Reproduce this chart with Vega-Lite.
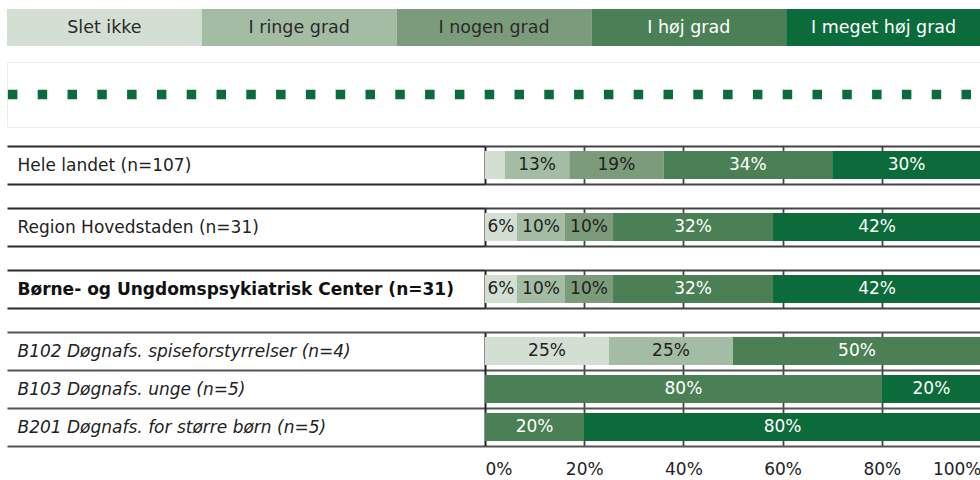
{
  "$schema": "https://vega.github.io/schema/vega-lite/v6.json",
  "padding": {"left": 6, "top": 9, "right": 0, "bottom": 0},
  "config": {
    "font": "DejaVu Sans",
    "view": {"stroke": null},
    "concat": {"spacing": 0}
  },
  "datasets": {
    "categories": [
      {"cat": "Slet ikke", "ord": 1},
      {"cat": "I ringe grad", "ord": 2},
      {"cat": "I nogen grad", "ord": 3},
      {"cat": "I høj grad", "ord": 4},
      {"cat": "I meget høj grad", "ord": 5}
    ],
    "reference": [{"series": "Reference"}],
    "rows": [
      {"group": 1, "label": "Hele landet (n=107)", "cat": "Slet ikke", "ord": 1, "pct": 0.04},
      {"group": 1, "label": "Hele landet (n=107)", "cat": "I ringe grad", "ord": 2, "pct": 0.13},
      {"group": 1, "label": "Hele landet (n=107)", "cat": "I nogen grad", "ord": 3, "pct": 0.19},
      {"group": 1, "label": "Hele landet (n=107)", "cat": "I høj grad", "ord": 4, "pct": 0.34},
      {"group": 1, "label": "Hele landet (n=107)", "cat": "I meget høj grad", "ord": 5, "pct": 0.30},
      {"group": 2, "label": "Region Hovedstaden (n=31)", "cat": "Slet ikke", "ord": 1, "pct": 0.0645},
      {"group": 2, "label": "Region Hovedstaden (n=31)", "cat": "I ringe grad", "ord": 2, "pct": 0.0968},
      {"group": 2, "label": "Region Hovedstaden (n=31)", "cat": "I nogen grad", "ord": 3, "pct": 0.0968},
      {"group": 2, "label": "Region Hovedstaden (n=31)", "cat": "I høj grad", "ord": 4, "pct": 0.3226},
      {"group": 2, "label": "Region Hovedstaden (n=31)", "cat": "I meget høj grad", "ord": 5, "pct": 0.4194},
      {"group": 3, "label": "Børne- og Ungdomspsykiatrisk Center (n=31)", "cat": "Slet ikke", "ord": 1, "pct": 0.0645},
      {"group": 3, "label": "Børne- og Ungdomspsykiatrisk Center (n=31)", "cat": "I ringe grad", "ord": 2, "pct": 0.0968},
      {"group": 3, "label": "Børne- og Ungdomspsykiatrisk Center (n=31)", "cat": "I nogen grad", "ord": 3, "pct": 0.0968},
      {"group": 3, "label": "Børne- og Ungdomspsykiatrisk Center (n=31)", "cat": "I høj grad", "ord": 4, "pct": 0.3226},
      {"group": 3, "label": "Børne- og Ungdomspsykiatrisk Center (n=31)", "cat": "I meget høj grad", "ord": 5, "pct": 0.4194},
      {"group": 4, "label": "B102 Døgnafs. spiseforstyrrelser (n=4)", "cat": "Slet ikke", "ord": 1, "pct": 0.25},
      {"group": 4, "label": "B102 Døgnafs. spiseforstyrrelser (n=4)", "cat": "I ringe grad", "ord": 2, "pct": 0.25},
      {"group": 4, "label": "B102 Døgnafs. spiseforstyrrelser (n=4)", "cat": "I nogen grad", "ord": 3, "pct": 0},
      {"group": 4, "label": "B102 Døgnafs. spiseforstyrrelser (n=4)", "cat": "I høj grad", "ord": 4, "pct": 0.5},
      {"group": 4, "label": "B102 Døgnafs. spiseforstyrrelser (n=4)", "cat": "I meget høj grad", "ord": 5, "pct": 0},
      {"group": 4, "label": "B103 Døgnafs. unge (n=5)", "cat": "Slet ikke", "ord": 1, "pct": 0},
      {"group": 4, "label": "B103 Døgnafs. unge (n=5)", "cat": "I ringe grad", "ord": 2, "pct": 0},
      {"group": 4, "label": "B103 Døgnafs. unge (n=5)", "cat": "I nogen grad", "ord": 3, "pct": 0},
      {"group": 4, "label": "B103 Døgnafs. unge (n=5)", "cat": "I høj grad", "ord": 4, "pct": 0.8},
      {"group": 4, "label": "B103 Døgnafs. unge (n=5)", "cat": "I meget høj grad", "ord": 5, "pct": 0.2},
      {"group": 4, "label": "B201 Døgnafs. for større børn (n=5)", "cat": "Slet ikke", "ord": 1, "pct": 0},
      {"group": 4, "label": "B201 Døgnafs. for større børn (n=5)", "cat": "I ringe grad", "ord": 2, "pct": 0},
      {"group": 4, "label": "B201 Døgnafs. for større børn (n=5)", "cat": "I nogen grad", "ord": 3, "pct": 0},
      {"group": 4, "label": "B201 Døgnafs. for større børn (n=5)", "cat": "I høj grad", "ord": 4, "pct": 0.2},
      {"group": 4, "label": "B201 Døgnafs. for større børn (n=5)", "cat": "I meget høj grad", "ord": 5, "pct": 0.8}
    ]
  },
  "spacing": 15,
  "vconcat": [
    {
      "data": {"name": "categories"},
      "width": 974,
      "height": 37,
      "encoding": {
        "x": {"field": "cat", "type": "nominal", "sort": null, "axis": null, "scale": {"paddingInner": 0, "paddingOuter": 0}}
      },
      "layer": [
        {
          "mark": {"type": "rect"},
          "encoding": {
            "color": {"field": "cat", "type": "nominal", "legend": null,
              "scale": {"domain": ["Slet ikke", "I ringe grad", "I nogen grad", "I høj grad", "I meget høj grad"], "range": ["#d3dfd3", "#a3bca3", "#7b9b7b", "#4b7f55", "#0b6b3a"]}}
          }
        },
        {
          "mark": {"type": "text", "fontSize": 17.5},
          "encoding": {
            "text": {"field": "cat"},
            "color": {"condition": {"test": "datum.ord >= 4", "value": "#ffffff"}, "value": "#2a2a2a"}
          }
        }
      ]
    },
    {
      "spacing": 9,
      "vconcat": [
        {
          "data": {"name": "reference"},
          "width": 974,
          "height": 65,
          "view": {"stroke": "#ececec"},
          "mark": {"type": "rule", "color": "#0b6b3a", "strokeWidth": 9.5, "strokeDash": [9.5, 20.3], "strokeDashOffset": 19.8, "strokeCap": "butt", "clip": true},
          "encoding": {"y": {"field": "series", "type": "nominal", "axis": null}}
        },
        {
          "spacing": 15,
          "vconcat": [
            {
              "spacing": 0,
              "bounds": "flush",
              "hconcat": [
                {
                  "width": 478, "height": 38,
                  "data": {"name": "rows"},
                  "transform": [{"filter": "datum.group == 1"}],
                  "mark": {"type": "bar", "opacity": 0},
                  "encoding": {
                    "y": {"field": "label", "type": "nominal", "sort": null, "title": null,
                      "scale": {"paddingInner": 0, "paddingOuter": 0},
                      "axis": {"orient": "left", "domain": false, "ticks": false, "tickSize": 0, "labelAlign": "left", "labelPadding": -10, "labelFontSize": 17, "labelColor": "#222222", "labelLimit": 470, "grid": true, "tickBand": "extent", "gridColor": "#2a2a2a", "gridWidth": 1.8, "gridOpacity": 1, "zindex": 1}}
                  }
                },
                {
                  "width": 496, "height": 38,
                  "data": {"name": "rows"},
                  "transform": [{"filter": "datum.group == 1"}],
                  "encoding": {
                    "y": {"field": "label", "type": "nominal", "sort": null, "title": null,
                      "scale": {"paddingInner": 0, "paddingOuter": 0},
                      "axis": {"labels": false, "ticks": false, "domain": true, "domainColor": "#222222", "domainWidth": 2, "grid": true, "tickBand": "extent", "gridColor": "#444444", "gridWidth": 1.8, "gridOpacity": 1}},
                    "order": {"field": "ord", "type": "quantitative"}
                  },
                  "layer": [
                    {
                      "mark": {"type": "bar", "height": {"band": 0.74}},
                      "encoding": {
                        "x": {"field": "pct", "type": "quantitative", "stack": "zero", "scale": {"domain": [0, 1], "nice": false},
                          "axis": {"title": null, "labels": false, "ticks": false, "domain": false, "grid": true, "values": [0.2, 0.4, 0.6, 0.8], "gridColor": "#444444", "gridWidth": 1.8, "gridOpacity": 1}},
                        "color": {"field": "cat", "type": "nominal", "legend": null,
                          "scale": {"domain": ["Slet ikke", "I ringe grad", "I nogen grad", "I høj grad", "I meget høj grad"], "range": ["#d3dfd3", "#a3bca3", "#7b9b7b", "#4b7f55", "#0b6b3a"]}}
                      }
                    },
                    {
                      "mark": {"type": "text", "fontSize": 17},
                      "encoding": {
                        "x": {"field": "pct", "type": "quantitative", "stack": "zero", "bandPosition": 0.5,
                          "axis": {"title": null, "labels": false, "ticks": false, "domain": false, "grid": true, "values": [0.2, 0.4, 0.6, 0.8], "gridColor": "#444444", "gridWidth": 1.8, "gridOpacity": 1}},
                        "text": {"field": "pct", "type": "quantitative", "format": ".0%"},
                        "opacity": {"condition": {"test": "datum.pct < 0.05", "value": 0}, "value": 1},
                        "color": {"condition": {"test": "datum.ord >= 4", "value": "#ffffff"}, "value": "#222222"}
                      }
                    }
                  ]
                }
              ]
            },
            {
              "spacing": 0,
              "bounds": "flush",
              "hconcat": [
                {
                  "width": 478, "height": 38,
                  "data": {"name": "rows"},
                  "transform": [{"filter": "datum.group == 2"}],
                  "mark": {"type": "bar", "opacity": 0},
                  "encoding": {
                    "y": {"field": "label", "type": "nominal", "sort": null, "title": null,
                      "scale": {"paddingInner": 0, "paddingOuter": 0},
                      "axis": {"orient": "left", "domain": false, "ticks": false, "tickSize": 0, "labelAlign": "left", "labelPadding": -10, "labelFontSize": 17, "labelColor": "#222222", "labelLimit": 470, "grid": true, "tickBand": "extent", "gridColor": "#2a2a2a", "gridWidth": 1.8, "gridOpacity": 1, "zindex": 1}}
                  }
                },
                {
                  "width": 496, "height": 38,
                  "data": {"name": "rows"},
                  "transform": [{"filter": "datum.group == 2"}],
                  "encoding": {
                    "y": {"field": "label", "type": "nominal", "sort": null, "title": null,
                      "scale": {"paddingInner": 0, "paddingOuter": 0},
                      "axis": {"labels": false, "ticks": false, "domain": true, "domainColor": "#222222", "domainWidth": 2, "grid": true, "tickBand": "extent", "gridColor": "#444444", "gridWidth": 1.8, "gridOpacity": 1}},
                    "order": {"field": "ord", "type": "quantitative"}
                  },
                  "layer": [
                    {
                      "mark": {"type": "bar", "height": {"band": 0.74}},
                      "encoding": {
                        "x": {"field": "pct", "type": "quantitative", "stack": "zero", "scale": {"domain": [0, 1], "nice": false},
                          "axis": {"title": null, "labels": false, "ticks": false, "domain": false, "grid": true, "values": [0.2, 0.4, 0.6, 0.8], "gridColor": "#444444", "gridWidth": 1.8, "gridOpacity": 1}},
                        "color": {"field": "cat", "type": "nominal", "legend": null,
                          "scale": {"domain": ["Slet ikke", "I ringe grad", "I nogen grad", "I høj grad", "I meget høj grad"], "range": ["#d3dfd3", "#a3bca3", "#7b9b7b", "#4b7f55", "#0b6b3a"]}}
                      }
                    },
                    {
                      "mark": {"type": "text", "fontSize": 17},
                      "encoding": {
                        "x": {"field": "pct", "type": "quantitative", "stack": "zero", "bandPosition": 0.5,
                          "axis": {"title": null, "labels": false, "ticks": false, "domain": false, "grid": true, "values": [0.2, 0.4, 0.6, 0.8], "gridColor": "#444444", "gridWidth": 1.8, "gridOpacity": 1}},
                        "text": {"field": "pct", "type": "quantitative", "format": ".0%"},
                        "opacity": {"condition": {"test": "datum.pct < 0.05", "value": 0}, "value": 1},
                        "color": {"condition": {"test": "datum.ord >= 4", "value": "#ffffff"}, "value": "#222222"}
                      }
                    }
                  ]
                }
              ]
            },
            {
              "spacing": 0,
              "bounds": "flush",
              "hconcat": [
                {
                  "width": 478, "height": 38,
                  "data": {"name": "rows"},
                  "transform": [{"filter": "datum.group == 3"}],
                  "mark": {"type": "bar", "opacity": 0},
                  "encoding": {
                    "y": {"field": "label", "type": "nominal", "sort": null, "title": null,
                      "scale": {"paddingInner": 0, "paddingOuter": 0},
                      "axis": {"orient": "left", "domain": false, "ticks": false, "tickSize": 0, "labelAlign": "left", "labelPadding": -10, "labelFontSize": 17, "labelFontWeight": "bold", "labelColor": "#111111", "labelLimit": 470, "grid": true, "tickBand": "extent", "gridColor": "#2a2a2a", "gridWidth": 1.8, "gridOpacity": 1, "zindex": 1}}
                  }
                },
                {
                  "width": 496, "height": 38,
                  "data": {"name": "rows"},
                  "transform": [{"filter": "datum.group == 3"}],
                  "encoding": {
                    "y": {"field": "label", "type": "nominal", "sort": null, "title": null,
                      "scale": {"paddingInner": 0, "paddingOuter": 0},
                      "axis": {"labels": false, "ticks": false, "domain": true, "domainColor": "#222222", "domainWidth": 2, "grid": true, "tickBand": "extent", "gridColor": "#444444", "gridWidth": 1.8, "gridOpacity": 1}},
                    "order": {"field": "ord", "type": "quantitative"}
                  },
                  "layer": [
                    {
                      "mark": {"type": "bar", "height": {"band": 0.74}},
                      "encoding": {
                        "x": {"field": "pct", "type": "quantitative", "stack": "zero", "scale": {"domain": [0, 1], "nice": false},
                          "axis": {"title": null, "labels": false, "ticks": false, "domain": false, "grid": true, "values": [0.2, 0.4, 0.6, 0.8], "gridColor": "#444444", "gridWidth": 1.8, "gridOpacity": 1}},
                        "color": {"field": "cat", "type": "nominal", "legend": null,
                          "scale": {"domain": ["Slet ikke", "I ringe grad", "I nogen grad", "I høj grad", "I meget høj grad"], "range": ["#d3dfd3", "#a3bca3", "#7b9b7b", "#4b7f55", "#0b6b3a"]}}
                      }
                    },
                    {
                      "mark": {"type": "text", "fontSize": 17},
                      "encoding": {
                        "x": {"field": "pct", "type": "quantitative", "stack": "zero", "bandPosition": 0.5,
                          "axis": {"title": null, "labels": false, "ticks": false, "domain": false, "grid": true, "values": [0.2, 0.4, 0.6, 0.8], "gridColor": "#444444", "gridWidth": 1.8, "gridOpacity": 1}},
                        "text": {"field": "pct", "type": "quantitative", "format": ".0%"},
                        "opacity": {"condition": {"test": "datum.pct < 0.05", "value": 0}, "value": 1},
                        "color": {"condition": {"test": "datum.ord >= 4", "value": "#ffffff"}, "value": "#222222"}
                      }
                    }
                  ]
                }
              ]
            },
            {
              "spacing": 0,
              "bounds": "flush",
              "hconcat": [
                {
                  "width": 478, "height": 114,
                  "data": {"name": "rows"},
                  "transform": [{"filter": "datum.group == 4"}],
                  "mark": {"type": "bar", "opacity": 0},
                  "encoding": {
                    "y": {"field": "label", "type": "nominal", "sort": null, "title": null,
                      "scale": {"paddingInner": 0, "paddingOuter": 0},
                      "axis": {"orient": "left", "domain": false, "ticks": false, "tickSize": 0, "labelAlign": "left", "labelPadding": -10, "labelFontSize": 17, "labelFontStyle": "italic", "labelColor": "#222222", "labelLimit": 470, "grid": true, "tickBand": "extent", "gridColor": "#555555", "gridWidth": 1.8, "gridOpacity": 1, "zindex": 1}}
                  }
                },
                {
                  "width": 496, "height": 114,
                  "data": {"name": "rows"},
                  "transform": [{"filter": "datum.group == 4"}],
                  "encoding": {
                    "y": {"field": "label", "type": "nominal", "sort": null, "title": null,
                      "scale": {"paddingInner": 0, "paddingOuter": 0},
                      "axis": {"labels": false, "ticks": false, "domain": true, "domainColor": "#222222", "domainWidth": 2, "grid": true, "tickBand": "extent", "gridColor": "#555555", "gridWidth": 1.8, "gridOpacity": 1}},
                    "order": {"field": "ord", "type": "quantitative"}
                  },
                  "layer": [
                    {
                      "mark": {"type": "bar", "height": {"band": 0.74}},
                      "encoding": {
                        "x": {"field": "pct", "type": "quantitative", "stack": "zero", "scale": {"domain": [0, 1], "nice": false},
                          "axis": {"title": null, "format": ".0%", "labelFlush": true, "labelFontSize": 17, "labelColor": "#222222", "labelPadding": 15, "ticks": false, "domain": false, "grid": true, "values": [0, 0.2, 0.4, 0.6, 0.8, 1], "gridColor": "#444444", "gridWidth": 1.8,
                            "gridOpacity": {"condition": {"test": "datum.value > 0 && datum.value < 1", "value": 1}, "value": 0}}},
                        "color": {"field": "cat", "type": "nominal", "legend": null,
                          "scale": {"domain": ["Slet ikke", "I ringe grad", "I nogen grad", "I høj grad", "I meget høj grad"], "range": ["#d3dfd3", "#a3bca3", "#7b9b7b", "#4b7f55", "#0b6b3a"]}}
                      }
                    },
                    {
                      "mark": {"type": "text", "fontSize": 17},
                      "encoding": {
                        "x": {"field": "pct", "type": "quantitative", "stack": "zero", "bandPosition": 0.5,
                          "axis": {"title": null, "format": ".0%", "labelFlush": true, "labelFontSize": 17, "labelColor": "#222222", "labelPadding": 15, "ticks": false, "domain": false, "grid": true, "values": [0, 0.2, 0.4, 0.6, 0.8, 1], "gridColor": "#444444", "gridWidth": 1.8,
                            "gridOpacity": {"condition": {"test": "datum.value > 0 && datum.value < 1", "value": 1}, "value": 0}}},
                        "text": {"field": "pct", "type": "quantitative", "format": ".0%"},
                        "opacity": {"condition": {"test": "datum.pct < 0.05", "value": 0}, "value": 1},
                        "color": {"condition": {"test": "datum.ord >= 4", "value": "#ffffff"}, "value": "#222222"}
                      }
                    }
                  ]
                }
              ]
            }
          ]
        }
      ]
    }
  ]
}
